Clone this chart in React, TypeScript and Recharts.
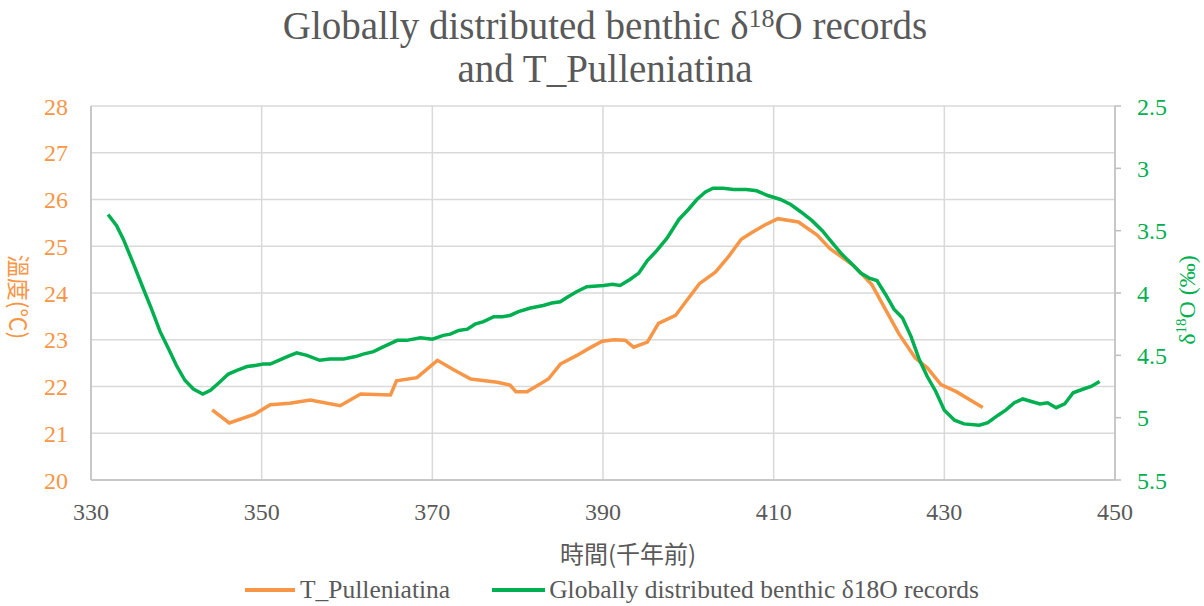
import React from 'react';
import { LineChart, Line, XAxis, YAxis, CartesianGrid } from 'recharts';

// T_Pulleniatina temperature (left axis, °C)
const tempAges = [
  344.2, 346.2, 349.2, 351.0, 353.3, 355.7, 359.2, 361.6, 365.1, 365.8,
  368.2, 370.6, 372.5, 374.5, 377.6, 379.1, 379.8, 381.1, 383.6, 385.0,
  387.0, 388.3, 389.9, 391.3, 392.6, 393.6, 395.2, 396.5, 398.5, 399.9,
  401.3, 403.2, 404.8, 406.2, 407.4, 408.9, 410.5, 412.9, 415.1, 416.6,
  419.4, 421.5, 423.1, 424.7, 426.6, 428.0, 429.6, 431.4, 434.5,
];
const tempValues = [
  21.5, 21.22, 21.41, 21.61, 21.64, 21.71, 21.59, 21.84, 21.82, 22.12,
  22.19, 22.56, 22.36, 22.16, 22.09, 22.03, 21.89, 21.89, 22.16, 22.48,
  22.67, 22.81, 22.97, 23.0, 22.99, 22.84, 22.95, 23.35, 23.52, 23.86,
  24.2, 24.45, 24.8, 25.15, 25.29, 25.45, 25.59, 25.52, 25.24, 24.95,
  24.58, 24.18, 23.65, 23.12, 22.61, 22.4, 22.04, 21.89, 21.55,
];

// benthic d18O stack (right axis, reversed)
const isoAges = [
  332.0, 333.0, 333.8, 335.0, 336.1, 337.1, 338.1, 339.1, 340.0, 341.0,
  342.0, 343.1, 344.0, 345.0, 346.1, 347.1, 348.3, 349.4, 350.2, 351.0,
  352.0, 353.0, 354.1, 355.3, 356.8, 358.0, 359.6, 361.0, 361.9, 363.1,
  364.3, 365.9, 367.0, 368.6, 370.0, 371.3, 372.1, 373.1, 374.1, 375.0,
  376.0, 377.2, 378.2, 379.1, 380.1, 381.5, 383.0, 384.0, 385.0, 385.9,
  386.9, 388.1, 390.1, 391.1, 392.0, 393.2, 394.2, 395.2, 396.3, 397.5,
  398.9, 400.0, 401.0, 402.0, 402.9, 404.1, 405.3, 406.8, 408.0, 409.4,
  410.8, 412.0, 413.2, 414.5, 415.7, 416.9, 418.0, 419.2, 420.2, 421.2,
  422.1, 423.1, 424.1, 425.1, 426.1, 427.1, 428.0, 429.0, 430.0, 431.2,
  432.3, 434.1, 435.1, 436.3, 437.2, 438.2, 439.2, 440.2, 441.2, 442.1,
  443.1, 444.1, 445.1, 446.3, 447.2, 448.2,
];
const isoValues = [
  3.37, 3.46, 3.57, 3.77, 3.96, 4.13, 4.31, 4.45, 4.58, 4.7,
  4.77, 4.81, 4.78, 4.72, 4.65, 4.62, 4.59, 4.58, 4.57, 4.57,
  4.54, 4.51, 4.48, 4.5, 4.54, 4.53, 4.53, 4.51, 4.49, 4.47,
  4.43, 4.38, 4.38, 4.36, 4.37, 4.34, 4.33, 4.3, 4.29, 4.25,
  4.23, 4.19, 4.19, 4.18, 4.15, 4.12, 4.1, 4.08, 4.07, 4.03,
  3.99, 3.95, 3.94, 3.93, 3.94, 3.89, 3.84, 3.74, 3.66, 3.56,
  3.41, 3.33, 3.25, 3.19, 3.16, 3.16, 3.17, 3.17, 3.18, 3.22,
  3.25, 3.29, 3.35, 3.42, 3.5, 3.6, 3.69, 3.77, 3.84, 3.88,
  3.9, 4.01, 4.13, 4.2, 4.35, 4.54, 4.67, 4.79, 4.94, 5.02,
  5.05, 5.06, 5.04, 4.98, 4.94, 4.88, 4.85, 4.87, 4.89, 4.88,
  4.92, 4.89, 4.8, 4.77, 4.75, 4.71,
];

const xTicks = [330, 350, 370, 390, 410, 430, 450];
const tempTicks = [20, 21, 22, 23, 24, 25, 26, 27, 28];
const isoTicks = [2.5, 3, 3.5, 4, 4.5, 5, 5.5];

const ORANGE = '#F79646';
const GREEN = '#00B050';
const GRAY = '#595959';

const tempData = tempAges.map((age, i) => ({ age, temp: tempValues[i] }));
const isoData = isoAges.map((age, i) => ({ age, iso: isoValues[i] }));

const serif = '"Liberation Serif", serif';
const cjk = '"Noto Sans CJK TC", "Noto Sans CJK SC", sans-serif';

const App: React.FC = () => {
  return (
    <div style={{ position: 'absolute', left: 0, top: 0, width: 1204, height: 606, background: '#fff', fontFamily: serif }}>
      <LineChart width={1204} height={606} margin={{ top: 106, right: 0, bottom: 0, left: 0 }}>
        <CartesianGrid yAxisId="left" stroke="#D9D9D9" strokeWidth={1.5} />
        <XAxis
          type="number"
          dataKey="age"
          domain={[330, 450]}
          ticks={xTicks}
          height={126}
          tickLine={false}
          tickSize={0}
          tickMargin={23}
          axisLine={{ stroke: '#BFBFBF', strokeWidth: 1.5 }}
          tick={{ fill: GRAY, fontSize: 24, fontFamily: serif }}
          allowDataOverflow
        />
        <YAxis
          yAxisId="left"
          domain={[20, 28]}
          ticks={tempTicks}
          width={91}
          tickLine={false}
          tickSize={0}
          tickMargin={23}
          axisLine={{ stroke: '#BFBFBF', strokeWidth: 1.5 }}
          tick={{ fill: ORANGE, fontSize: 24, fontFamily: serif }}
        />
        <YAxis
          yAxisId="right"
          orientation="right"
          reversed
          domain={[2.5, 5.5]}
          ticks={isoTicks}
          width={89}
          tickSize={6}
          tickMargin={16}
          tickLine={{ stroke: '#BFBFBF', strokeWidth: 1.5 }}
          axisLine={{ stroke: '#BFBFBF', strokeWidth: 1.5 }}
          tick={{ fill: GREEN, fontSize: 24, fontFamily: serif }}
        />
        <Line
          yAxisId="left"
          data={tempData}
          dataKey="temp"
          name="T_Pulleniatina"
          type="linear"
          stroke={ORANGE}
          strokeWidth={3.5}
          dot={false}
          isAnimationActive={false}
        />
        <Line
          yAxisId="right"
          data={isoData}
          dataKey="iso"
          name="Globally distributed benthic δ18O records"
          type="linear"
          stroke={GREEN}
          strokeWidth={3.5}
          dot={false}
          isAnimationActive={false}
        />
      </LineChart>

      {/* title */}
      <div style={{ position: 'absolute', top: 4, left: 0, width: 1210, textAlign: 'center', color: GRAY, fontSize: 39, lineHeight: '43px' }}>
        <div>Globally distributed benthic δ<sup style={{ fontSize: 26, verticalAlign: 'top', lineHeight: '30px' }}>18</sup>O records</div>
        <div>and T_Pulleniatina</div>
      </div>

      {/* axis titles */}
      <div style={{ position: 'absolute', left: 628, top: 552, transform: 'translate(-50%, -50%)', color: GRAY, fontSize: 24, fontFamily: cjk, whiteSpace: 'nowrap' }}>
        時間(千年前)
      </div>
      <div style={{ position: 'absolute', left: 20, top: 297, transform: 'translate(-50%, -50%) rotate(90deg)', color: ORANGE, fontSize: 23, fontFamily: cjk, whiteSpace: 'nowrap' }}>
        溫度(℃)
      </div>
      <div style={{ position: 'absolute', left: 1187, top: 300, transform: 'translate(-50%, -50%) rotate(-90deg)', color: GREEN, fontSize: 24, whiteSpace: 'nowrap' }}>
        δ<sup style={{ fontSize: 15 }}>18</sup>O (‰)
      </div>

      {/* legend */}
      <div style={{ position: 'absolute', left: 245, top: 576, height: 28, display: 'flex', alignItems: 'center', color: GRAY, fontSize: 25.5, whiteSpace: 'nowrap' }}>
        <span style={{ display: 'inline-block', width: 50, height: 4, background: ORANGE, marginRight: 5 }} />
        <span>T_Pulleniatina</span>
        <span style={{ display: 'inline-block', width: 53, height: 4, background: GREEN, marginLeft: 42, marginRight: 4 }} />
        <span>Globally distributed benthic δ18O records</span>
      </div>
    </div>
  );
};

export default App;
